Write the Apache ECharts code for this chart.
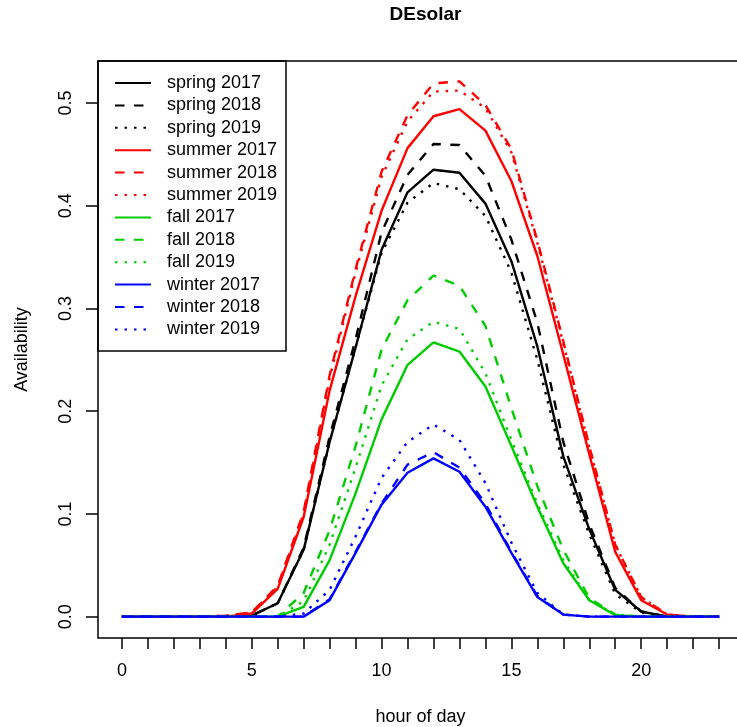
<!DOCTYPE html>
<html>
<head>
<meta charset="utf-8">
<script src="https://cdn.jsdelivr.net/npm/echarts@6/dist/echarts.min.js"></script>
<style>
  html, body { margin: 0; padding: 0; background: #fff; }
  #chart { width: 737px; height: 727px; }
</style>
</head>
<body>
<div id="chart"></div>
<script>
// hour of day
const hours = [0,1,2,3,4,5,6,7,8,9,10,11,12,13,14,15,16,17,18,19,20,21,22,23];

// availability per hour
const spring2017 = [0,0,0,0,0,0.001,0.013,0.065,0.17,0.262,0.357,0.413,0.435,0.432,0.402,0.346,0.263,0.156,0.085,0.026,0.005,0,0,0];
const spring2018 = [0,0,0,0,0,0.001,0.013,0.067,0.175,0.27,0.374,0.43,0.46,0.459,0.429,0.367,0.286,0.17,0.09,0.028,0.005,0,0,0];
const spring2019 = [0,0,0,0,0,0.001,0.013,0.065,0.17,0.262,0.354,0.403,0.422,0.416,0.39,0.335,0.25,0.148,0.08,0.022,0.004,0,0,0];
const summer2017 = [0,0,0,0,0,0.003,0.027,0.097,0.22,0.312,0.395,0.456,0.487,0.494,0.473,0.424,0.351,0.255,0.158,0.063,0.016,0.002,0,0];
const summer2018 = [0,0,0,0,0.001,0.004,0.03,0.102,0.235,0.338,0.433,0.488,0.519,0.521,0.498,0.455,0.366,0.268,0.166,0.07,0.019,0.002,0,0];
const summer2019 = [0,0,0,0,0.001,0.004,0.029,0.1,0.232,0.335,0.428,0.482,0.511,0.512,0.495,0.452,0.364,0.266,0.165,0.07,0.019,0.002,0,0];
const fall2017 = [0,0,0,0,0,0,0,0.0095,0.055,0.12,0.192,0.245,0.267,0.258,0.224,0.166,0.107,0.052,0.016,0.0015,0,0,0,0];
const fall2018 = [0,0,0,0,0,0,0,0.023,0.084,0.166,0.26,0.308,0.332,0.322,0.283,0.203,0.127,0.065,0.018,0.002,0,0,0,0];
const fall2019 = [0,0,0,0,0,0,0,0.015,0.07,0.145,0.225,0.27,0.287,0.28,0.237,0.172,0.11,0.055,0.016,0.002,0,0,0,0];
const winter2017 = [0,0,0,0,0,0,0,0,0.016,0.062,0.109,0.14,0.154,0.141,0.107,0.062,0.019,0.002,0,0,0,0,0,0];
const winter2018 = [0,0,0,0,0,0,0,0,0.017,0.063,0.11,0.148,0.16,0.145,0.11,0.063,0.02,0.002,0,0,0,0,0,0];
const winter2019 = [0,0,0,0,0,0,0,0.003,0.026,0.078,0.135,0.17,0.187,0.172,0.13,0.072,0.023,0.002,0,0,0,0,0,0];

const xLabels = [0,5,10,15,20];
const yTicks = [0,0.1,0.2,0.3,0.4,0.5];

const FONT = 'Liberation Sans';
const DASH = [9.5, 9.5];
const DOT = [2.5, 7];

const lines = [
  { name: 'spring 2017', data: spring2017, color: '#000000', type: 'solid' },
  { name: 'spring 2018', data: spring2018, color: '#000000', type: DASH },
  { name: 'spring 2019', data: spring2019, color: '#000000', type: DOT },
  { name: 'summer 2017', data: summer2017, color: '#ff0000', type: 'solid' },
  { name: 'summer 2018', data: summer2018, color: '#ff0000', type: DASH },
  { name: 'summer 2019', data: summer2019, color: '#ff0000', type: DOT },
  { name: 'fall 2017', data: fall2017, color: '#00cd00', type: 'solid' },
  { name: 'fall 2018', data: fall2018, color: '#00cd00', type: DASH },
  { name: 'fall 2019', data: fall2019, color: '#00cd00', type: DOT },
  { name: 'winter 2017', data: winter2017, color: '#0000ff', type: 'solid' },
  { name: 'winter 2018', data: winter2018, color: '#0000ff', type: DASH },
  { name: 'winter 2019', data: winter2019, color: '#0000ff', type: DOT }
];

const mychart = echarts.init(document.getElementById('chart'));

const option = {
  animation: false,
  backgroundColor: '#fff',
  title: {
    text: 'DEsolar',
    left: 420.5,
    top: 0,
    textAlign: 'center',
    textStyle: { fontFamily: FONT, fontSize: 19, fontWeight: 'bold', color: '#000' }
  },
  legend: {
    orient: 'vertical',
    left: 114,
    top: 74,
    padding: 0,
    itemWidth: 36,
    itemHeight: 14,
    itemGap: 4.4,
    selectedMode: false,
    itemStyle: { opacity: 0 },
    textStyle: { fontFamily: FONT, fontSize: 18, color: '#000', padding: [0, 0, 0, 11] },
    data: lines.map(l => l.name)
  },
  // the plot box: R pads the data range by 4% on each side
  grid: {
    left: 98, top: 61, width: 645, height: 577,
    outerBoundsMode: 'none',
    show: true, borderColor: '#000', borderWidth: 1.5
  },
  xAxis: {
    type: 'value', min: -0.92, max: 23.92,
    axisLine: { show: false, onZero: false },
    axisTick: { show: true, length: 11, customValues: hours, lineStyle: { color: '#000', width: 1.5 } },
    axisLabel: {
      margin: 24, fontFamily: FONT, fontSize: 18, color: '#000',
      customValues: xLabels,
      formatter: v => String(v)
    },
    splitLine: { show: false },
    name: 'hour of day', nameLocation: 'middle', nameGap: 70,
    nameTextStyle: { fontFamily: FONT, fontSize: 18, color: '#000' }
  },
  yAxis: {
    type: 'value', min: -0.0208, max: 0.5408,
    axisLine: { show: false, onZero: false },
    axisTick: { show: true, length: 12, customValues: yTicks, lineStyle: { color: '#000', width: 1.5 } },
    axisLabel: {
      margin: 23, rotate: 90, fontFamily: FONT, fontSize: 18, color: '#000',
      customValues: yTicks,
      formatter: v => v.toFixed(1)
    },
    splitLine: { show: false },
    name: 'Availability', nameLocation: 'middle', nameGap: 67, nameRotate: 90,
    nameTextStyle: { fontFamily: FONT, fontSize: 18, color: '#000' }
  },
  graphic: [{
    type: 'rect',
    shape: { x: 98, y: 61, width: 188, height: 290 },
    style: { fill: 'none', stroke: '#000', lineWidth: 1.5 },
    z: 100
  }],
  series: lines.map(l => ({
    name: l.name,
    type: 'line',
    symbol: 'none',
    showSymbol: false,
    itemStyle: { color: l.color },
    lineStyle: { color: l.color, width: 2.4, type: l.type, cap: 'butt' },
    data: hours.map((h, i) => [h, l.data[i]])
  }))
};

mychart.setOption(option, true);
</script>
</body>
</html>
